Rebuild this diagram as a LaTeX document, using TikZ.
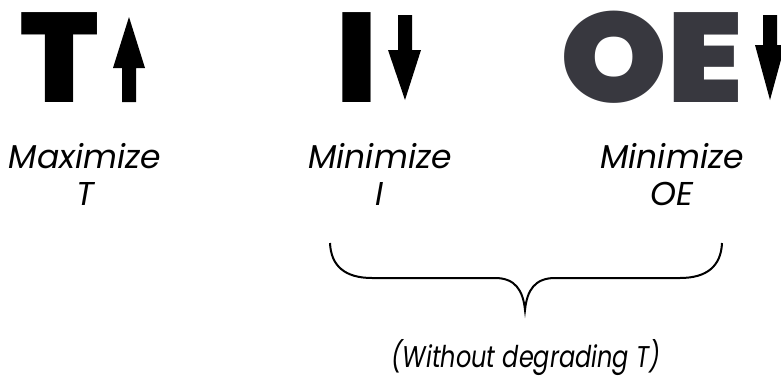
\documentclass[tikz,border=0pt]{standalone}
\usepackage{fontspec}
\setmainfont{Poppins}
\newfontfamily\heavyfont{Poppins Black}
\usetikzlibrary{positioning}
\definecolor{oegrey}{HTML}{38383F}
\tikzset{
  bigletter/.style={inner sep=0pt,anchor=base west,font=\heavyfont\fontsize{127}{127}\selectfont},
  glyph/.style={fill=black,draw=none},
  caption/.style={inner sep=0pt,align=center,font=\itshape\fontsize{33}{37}\selectfont},
}
\begin{document}
\begin{tikzpicture}[x=1pt,y=-1pt]
\useasboundingbox (0,0) rectangle (781,378);
% big letters along the top row
\node[bigletter] (bigT) at (20,102) {T};
\node[bigletter] (bigI) at (336,102) {I};
\node[bigletter,text=oegrey,xscale=1.07] (bigOE) at (560,102) {OE};
% up and down arrows next to them
\fill[glyph] (129,17) -- (145,68) -- (136,68) -- (136,102) -- (122,102) -- (122,68) -- (113,68) -- cycle;
\fill[glyph] (405,100) -- (421,50) -- (412,50) -- (412,15) -- (398,15) -- (398,50) -- (388,50) -- cycle;
\fill[glyph] (770,100) -- (785,45) -- (777,45) -- (777,15) -- (763,15) -- (763,45) -- (755,45) -- cycle;
% captions (base = last line)
\node[caption,anchor=base] (maxT) at (85,205) {Maximize\\T};
\node[caption,anchor=base] (minI) at (380,205) {Minimize\\I};
\node[caption,anchor=base] (minOE) at (672,205) {Minimize\\OE};
% brace under the two minimize goals
\coordinate (braceL) at (330,243);
\coordinate (braceTip) at (525,310);
\coordinate (braceR) at (722,243);
\draw[line width=2pt] (braceL) .. controls (331,266) and (345,278) .. (372,278) -- (495,278)
  .. controls (515,278) and (523,290) .. (braceTip)
  .. controls (527,290) and (535,278) .. (555,278) -- (680,278)
  .. controls (707,278) and (721,266) .. (braceR);
\node[caption,anchor=base,font=\itshape\fontsize{30}{30}\selectfont,xscale=0.8] (note) at (526,367) {(Without degrading T)};
\end{tikzpicture}
\end{document}
